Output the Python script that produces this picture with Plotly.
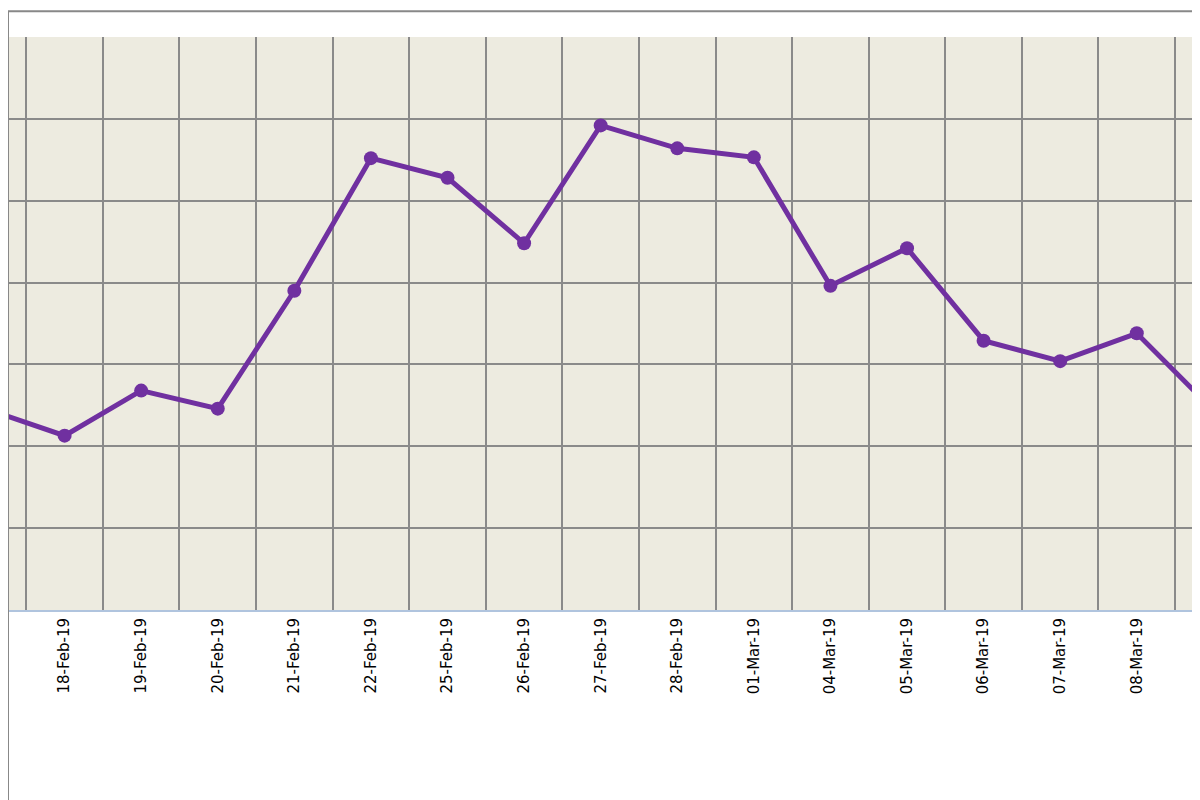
import plotly.graph_objects as go

dates = ["15-Feb-19","18-Feb-19","19-Feb-19","20-Feb-19","21-Feb-19","22-Feb-19","25-Feb-19",
         "26-Feb-19","27-Feb-19","28-Feb-19","01-Mar-19","04-Mar-19","05-Mar-19","06-Mar-19",
         "07-Mar-19","08-Mar-19","11-Mar-19"]
values = [2.45,2.13,2.68,2.46,3.90,5.52,5.28,4.48,5.92,5.64,5.53,3.96,4.42,3.29,3.04,3.38,2.44]
label_colors = ["#33CCEE"] + ["#000000"]*15 + ["#E8C020"]

fig = go.Figure(go.Scatter(
    x=dates, y=values, mode="lines+markers",
    line=dict(color="#7030A0", width=5),
    marker=dict(color="#7030A0", size=14),
    cliponaxis=True,
))
ticktext = [f"<span style='color:{c}'>{d}</span>" for d, c in zip(dates, label_colors)]
fig.update_layout(
    width=1200, height=800,
    margin=dict(l=0, r=0, t=29, b=198),
    paper_bgcolor="white", plot_bgcolor="#EDEBE0",
    showlegend=False,
    font=dict(family="DejaVu Sans", size=15, color="black"),
    xaxis=dict(type="category", range=[0.261, 15.93], tickson="boundaries",
               showgrid=True, gridcolor="#8a8a8a", gridwidth=1.5,
               tickvals=dates, ticktext=ticktext, tickangle=-90, ticks="",
               showline=True, linecolor="#B0C4DE", linewidth=2),
    yaxis=dict(range=[0, 7], dtick=1, showgrid=True, gridcolor="#8a8a8a", gridwidth=1.5,
               showticklabels=False, zeroline=False),
    shapes=[dict(type="rect", xref="paper", yref="paper", x0=0, x1=1, y0=-0.34, y1=1.045,
                 line=dict(color="#888888", width=2), fillcolor="rgba(0,0,0,0)")],
)
fig.write_html("out.html")
